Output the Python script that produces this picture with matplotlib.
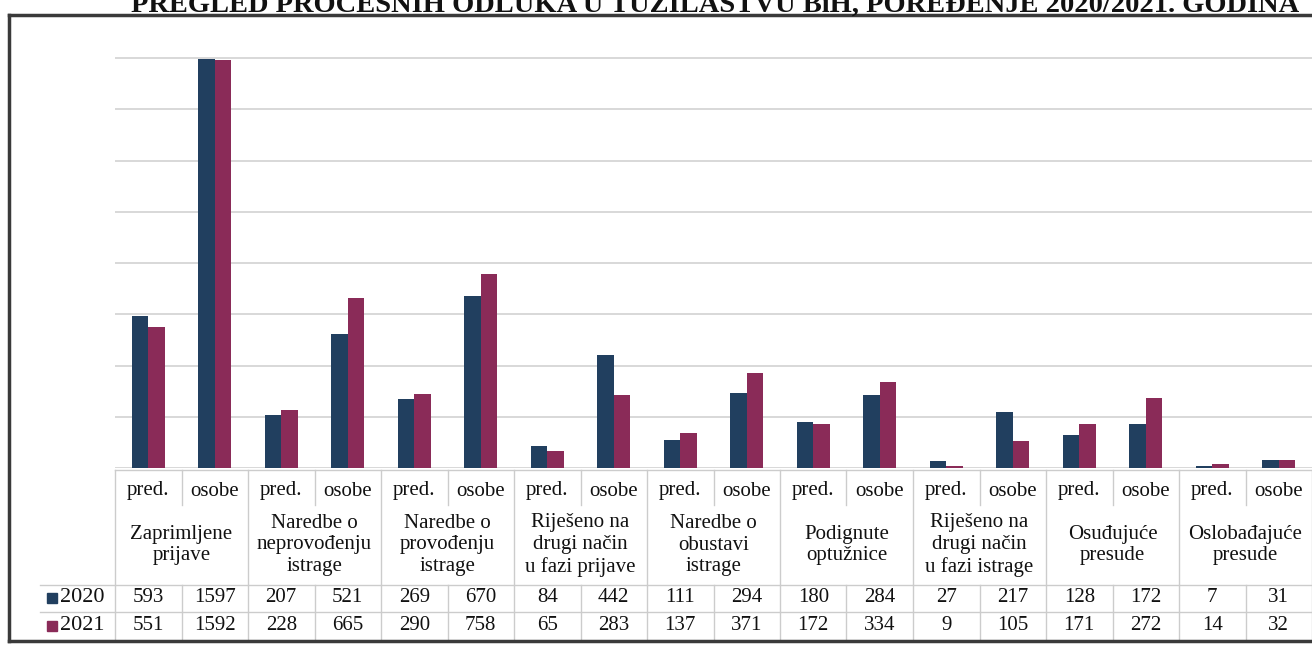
import matplotlib
matplotlib.use("Agg")
import matplotlib.pyplot as plt
from matplotlib.lines import Line2D
from matplotlib.patches import Rectangle

# ---------------- data ----------------
categories = [
    "Zaprimljene\nprijave",
    "Naredbe o\nneprovođenju\nistrage",
    "Naredbe o\nprovođenju\nistrage",
    "Riješeno na\ndrugi način\nu fazi prijave",
    "Naredbe o\nobustavi\nistrage",
    "Podignute\noptužnice",
    "Riješeno na\ndrugi način\nu fazi istrage",
    "Osuđujuće\npresude",
    "Oslobađajuće\npresude",
]
subcats = ["pred.", "osobe"]
series_names = ["2020", "2021"]
values_2020 = [593, 1597, 207, 521, 269, 670, 84, 442, 111, 294, 180, 284, 27, 217, 128, 172, 7, 31]
values_2021 = [551, 1592, 228, 665, 290, 758, 65, 283, 137, 371, 172, 334, 9, 105, 171, 272, 14, 32]
title = "PREGLED PROCESNIH ODLUKA U TUŽILAŠTVU BiH, POREĐENJE 2020/2021. GODINA"

colors = ["#213f5f", "#8a2b58"]

W, H = 1312, 649
fig = plt.figure(figsize=(W / 100, H / 100), dpi=100)
fig.patch.set_facecolor("white")

def fx(x):
    return x / W

def fy(y):
    return 1 - y / H

SERIF = ["Liberation Serif", "DejaVu Serif"]
TXT = "#111111"

# ---------------- axes (bars) ----------------
x_left, x_right = 115, 1312
y_zero, y_1600 = 468, 58
ytop = 1620
y_top_px = y_zero - (y_zero - y_1600) * ytop / 1600
ax = fig.add_axes([fx(x_left), fy(y_zero), fx(x_right) - fx(x_left), (y_zero - y_top_px) / H])
ncol = len(values_2020)
ax.set_xlim(-0.5, ncol - 0.5)
ax.set_ylim(0, ytop)
xs = list(range(ncol))
bw = 0.245
ax.bar([x - bw / 2 for x in xs], values_2020, width=bw, color=colors[0], zorder=3)
ax.bar([x + bw / 2 for x in xs], values_2021, width=bw, color=colors[1], zorder=3)
ax.set_yticks(range(0, 1601, 200))
ax.yaxis.grid(True, color="#d2d2d2", linewidth=1.2, zorder=0)
ax.tick_params(left=False, bottom=False, labelleft=False, labelbottom=False)
for s in ax.spines.values():
    s.set_visible(False)
ax.set_facecolor("none")

# ---------------- table ----------------
col_w = (x_right - x_left) / ncol
grid_c = "#cccccc"
row_top, row_sub, row_data1, row_data2, row_bot = 470, 505, 585, 612, 641

def hline(y, x0, x1, c=grid_c, lw=1.0):
    fig.add_artist(Line2D([fx(x0), fx(x1)], [fy(y), fy(y)], color=c, lw=lw))

def vline(x, y0, y1, c=grid_c, lw=1.0):
    fig.add_artist(Line2D([fx(x), fx(x)], [fy(y0), fy(y1)], color=c, lw=lw))

hline(row_top, x_left, x_right)
hline(row_data1, 40, x_right)
hline(row_data2, 40, x_right)
for k in range(ncol + 1):
    x = x_left + col_w * k
    if k % 2 == 0:
        vline(x, row_top, row_bot)
    else:
        vline(x, row_top, row_sub)
        vline(x, row_data1, row_bot)

fs = 15
for k in range(ncol):
    cx = x_left + col_w * (k + 0.5)
    fig.text(fx(cx), fy(491), subcats[k % 2], ha="center", va="center",
             fontsize=fs, family=SERIF, color=TXT)
    fig.text(fx(cx), fy(598), str(values_2020[k]), ha="center", va="center",
             fontsize=fs, family=SERIF, color=TXT)
    fig.text(fx(cx), fy(626), str(values_2021[k]), ha="center", va="center",
             fontsize=fs, family=SERIF, color=TXT)

for i, cat in enumerate(categories):
    cx = x_left + col_w * (2 * i + 1)
    fig.text(fx(cx), fy(545), cat, ha="center", va="center", fontsize=fs,
             family=SERIF, color=TXT, linespacing=1.2)

for j, (name, yy) in enumerate(zip(series_names, [598, 626])):
    fig.add_artist(Rectangle((fx(47), fy(yy + 5)), 10 / W, 10 / H, color=colors[j]))
    fig.text(fx(60), fy(yy), name, ha="left", va="center", fontsize=16,
             family=SERIF, color=TXT)

# ---------------- frame ----------------
frame_c = "#3a3a3a"
hline(15, 9, W + 5, c=frame_c, lw=2.5)
hline(row_bot, 9, W + 5, c=frame_c, lw=2.5)
vline(9, 15, row_bot, c=frame_c, lw=2.5)

# ---------------- title (cut off at top, as in the source) ----------------
fig.text(fx(715), fy(12), title, ha="center", va="baseline", fontsize=20.5,
         fontweight="bold", family=SERIF, color="#111111")

fig.savefig("out.png", dpi=100, facecolor="white")
